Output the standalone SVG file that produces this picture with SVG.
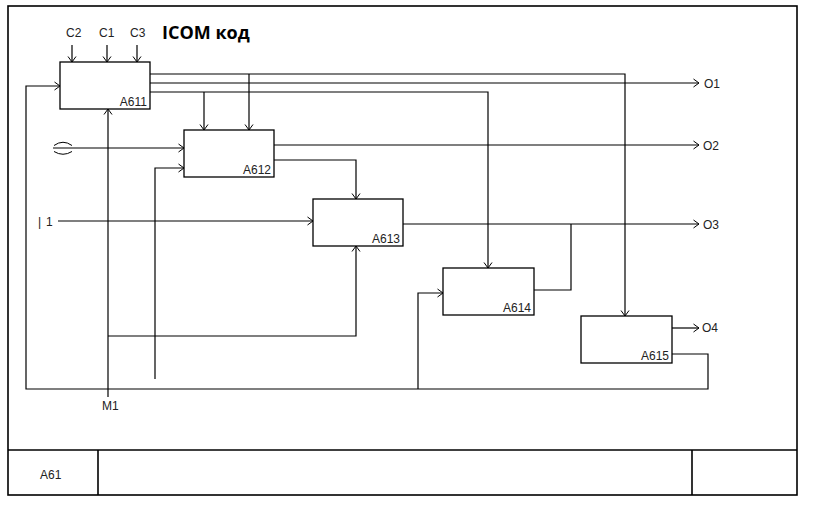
<svg xmlns="http://www.w3.org/2000/svg" width="818" height="509" viewBox="0 0 818 509">
<defs>
<marker id="ar" markerWidth="10" markerHeight="10" refX="9" refY="5" orient="auto" markerUnits="userSpaceOnUse"><path d="M3.5,1 L9,5 L3.5,9" fill="none" stroke="#000" stroke-width="1"/></marker>
<style>
.ln{fill:none;stroke:#000;stroke-width:1.2}
.ar{marker-end:url(#ar)}
.box{fill:#fff;stroke:#000;stroke-width:1.3}
.frm{fill:none;stroke:#000;stroke-width:1.6}
.t{font-family:"Liberation Sans",Arial,sans-serif;font-size:12px;fill:#222}
.lb{font-family:"Liberation Sans",Arial,sans-serif;font-size:12px;fill:#222;text-anchor:end}
</style>
</defs>
<rect width="818" height="509" fill="#fff"/>
<g id="frame">
<rect class="frm" x="8" y="6" width="789" height="489"/>
<line class="frm" x1="8" y1="450" x2="797" y2="450"/>
<line class="frm" x1="98" y1="450" x2="98" y2="495"/>
<line class="frm" x1="692" y1="450" x2="692" y2="495"/>
<text class="t" x="40" y="479">A61</text>
<text x="162" y="39" font-family="'Open Sans','Liberation Sans',sans-serif" font-weight="bold" font-size="18" fill="#000">ICOM код</text>
</g>
<g id="connectors">
<!-- controls -->
<line class="ln ar" x1="72" y1="45" x2="72" y2="62"/>
<line class="ln ar" x1="107" y1="45" x2="107" y2="62"/>
<line class="ln ar" x1="137" y1="45" x2="137" y2="62"/>
<!-- A611 outputs -->
<polyline class="ln ar" points="150,74 625,74 625,316"/>
<line class="ln ar" x1="249" y1="74" x2="249" y2="130"/>
<line class="ln ar" x1="150" y1="83" x2="699" y2="83"/>
<polyline class="ln ar" points="150,92 488,92 488,268"/>
<line class="ln ar" x1="204" y1="92" x2="204" y2="130"/>
<!-- A612 outputs -->
<line class="ln ar" x1="274" y1="145" x2="699" y2="145"/>
<polyline class="ln ar" points="274,160 356,160 356,199"/>
<!-- A613 output -->
<line class="ln ar" x1="403" y1="224" x2="699" y2="224"/>
<!-- A614 output -->
<polyline class="ln" points="534,290 571,290 571,224"/>
<!-- A615 outputs -->
<line class="ln ar" x1="672" y1="328" x2="699" y2="328"/>
<polyline class="ln ar" points="672,354 708,354 708,389 26,389 26,86 60,86"/>
<polyline class="ln ar" points="418,389 418,293 443,293"/>
<!-- inputs -->
<line class="ln ar" x1="53" y1="148" x2="184" y2="148"/>
<path d="M54,145.5 Q63,139 72,145.5 M54,151.5 Q63,157 72,151.5" fill="none" stroke="#000" stroke-width="1"/>
<line class="ln ar" x1="58" y1="221" x2="313" y2="221"/>
<polyline class="ln ar" points="155,379 155,168 184,168"/>
<!-- mechanism -->
<line class="ln ar" x1="108" y1="397" x2="108" y2="109"/>
<polyline class="ln ar" points="108,336 356,336 356,246"/>
</g>
<g id="A611"><rect class="box" x="60" y="62" width="90" height="47"/><text class="lb" x="147" y="106">A611</text></g>
<g id="A612"><rect class="box" x="184" y="130" width="90" height="47"/><text class="lb" x="271" y="174">A612</text></g>
<g id="A613"><rect class="box" x="313" y="199" width="90" height="47"/><text class="lb" x="400" y="243">A613</text></g>
<g id="A614"><rect class="box" x="443" y="268" width="91" height="47"/><text class="lb" x="531" y="312">A614</text></g>
<g id="A615"><rect class="box" x="581" y="316" width="91" height="47"/><text class="lb" x="669" y="360">A615</text></g>
<g id="labels">
<text class="t" x="66" y="37">C2</text>
<text class="t" x="99" y="37">C1</text>
<text class="t" x="130" y="37">C3</text>
<text class="t" x="704" y="88">O1</text>
<text class="t" x="703" y="150">O2</text>
<text class="t" x="703" y="229">O3</text>
<text class="t" x="702" y="332">O4</text>
<text class="t" x="102" y="410">M1</text>
<text class="t" x="38" y="226" fill="#999">|</text>
<text class="t" x="46" y="226">1</text>
</g>
</svg>
